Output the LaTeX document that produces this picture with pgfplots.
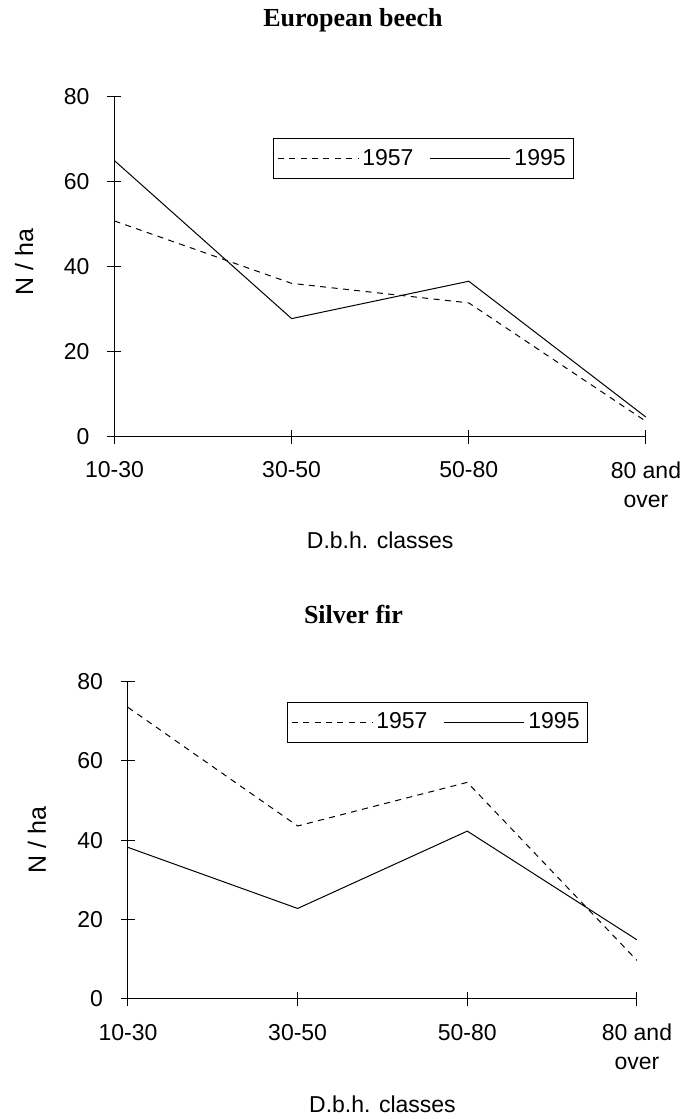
\documentclass[border=0pt]{standalone}
\usepackage{fontspec}
\setmainfont{Liberation Sans}
\newfontfamily\titlefont{Liberation Serif}
\usepackage{pgfplots}
\pgfplotsset{compat=1.18}

\newcommand{\chartfont}{\fontsize{11.5}{14.5}\selectfont}
\newcommand{\titlestyle}{\titlefont\bfseries\fontsize{13}{15}\selectfont}

% common look of both stem-number panels
\pgfplotsset{
  dbhpanel/.style={
    scale only axis,
    axis lines*=left,
    xmin=0, xmax=3, ymin=0, ymax=80,
    xtick={0,1,2,3},
    xticklabels={10-30,30-50,50-80,{80 and\\over}},
    ytick={0,20,40,60,80},
    tick align=center,
    major tick length=7pt,
    tick style={black, line width=0.5pt},
    axis line style={black, line width=0.5pt},
    /pgf/number format/assume math mode=true,
    tick label style={font=\chartfont},
    xticklabel style={align=center, yshift=-5.5pt},
    yticklabel style={xshift=-5.5pt},
    xlabel style={font=\chartfont},
    ylabel style={font=\fontsize{12.5}{15}\selectfont},
    ylabel={N / ha},
    xlabel={D.b.h. classes},
    legend columns=2,
    legend image code/.code={\draw[#1] (0pt,0pt) -- (40pt,0pt);},
    legend style={
      draw=black, line width=0.5pt, font=\chartfont,
      inner xsep=2pt, inner ysep=3.25pt,
      /tikz/every even column/.append style={column sep=6pt},
    },
  },
  old/.style={black, no markers, line width=0.5pt, dash pattern=on 3pt off 2.7pt},
  new/.style={black, no markers, line width=0.5pt, solid},
}

\begin{document}
\begin{tikzpicture}
\path (0pt,0pt) rectangle (342.5pt,559.5pt);

\node[font=\titlestyle, anchor=base] at (176.5pt,546pt) {European beech};
\node[font=\titlestyle, anchor=base] at (176.75pt,247.5pt) {Silver fir};

% European beech
\begin{axis}[dbhpanel,
  at={(57.25pt,341.15pt)}, anchor=south west,
  width=265.75pt, height=169.85pt,
  ylabel style={at={(axis description cs:-0.170,0.515)}, anchor=center},
  xlabel style={at={(axis description cs:0.5,-0.304)}, anchor=center},
  legend style={at={(axis description cs:0.298,0.879)}, anchor=north west},
]
\addplot[old] coordinates {(0,50.8) (1,36.1) (2,31.5) (3,3.6)};
\addlegendentry{1957}
\addplot[new] coordinates {(0,65.0) (1,27.8) (2,36.6) (3,4.6)};
\addlegendentry{1995\hspace{4pt}}
\end{axis}

% Silver fir
\begin{axis}[dbhpanel,
  at={(64pt,60pt)}, anchor=south west,
  width=254.5pt, height=158.65pt,
  ylabel style={at={(axis description cs:-0.179,0.5)}, anchor=center},
  xlabel style={at={(axis description cs:0.5,-0.331)}, anchor=center},
  legend style={at={(axis description cs:0.312,0.936)}, anchor=north west},
]
\addplot[old] coordinates {(0,73.5) (1,43.6) (2,54.6) (3,9.7)};
\addlegendentry{1957}
\addplot[new] coordinates {(0,38.2) (1,22.8) (2,42.3) (3,14.9)};
\addlegendentry{1995\hspace{4pt}}
\end{axis}
\end{tikzpicture}
\end{document}
